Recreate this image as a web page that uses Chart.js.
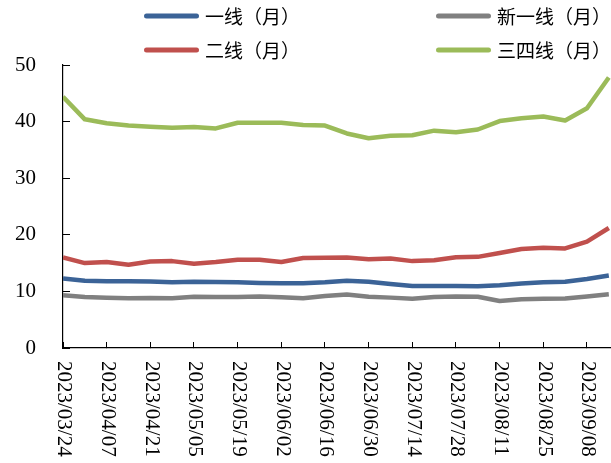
<!DOCTYPE html>
<html>
<head>
<meta charset="utf-8">
<script src="https://cdn.jsdelivr.net/npm/chart.js@4/dist/chart.umd.min.js"></script>
<style>
  html, body { margin: 0; padding: 0; background: #fff; }
  #wrap { width: 611px; height: 463px; }
</style>
</head>
<body>
<div id="wrap"><canvas id="c" width="611" height="463"></canvas></div>
<script>
// Weekly observation dates
const dates = [
  '2023/03/24','2023/03/31','2023/04/07','2023/04/14','2023/04/21','2023/04/28',
  '2023/05/05','2023/05/12','2023/05/19','2023/05/26','2023/06/02','2023/06/09',
  '2023/06/16','2023/06/23','2023/06/30','2023/07/07','2023/07/14','2023/07/21',
  '2023/07/28','2023/08/04','2023/08/11','2023/08/18','2023/08/25','2023/09/01',
  '2023/09/08','2023/09/15'
];

// Series by city tier
const tier1 = [12.3, 11.9, 11.8, 11.8, 11.75, 11.6, 11.7, 11.65, 11.6, 11.5, 11.45, 11.45, 11.6,
               11.9, 11.7, 11.3, 10.95, 10.95, 10.95, 10.9, 11.1, 11.4, 11.6, 11.7, 12.2, 12.8];
const newTier1 = [9.3, 9.0, 8.9, 8.8, 8.85, 8.8, 9.05, 9.0, 9.0, 9.1, 8.95, 8.8, 9.2,
                  9.45, 9.05, 8.9, 8.7, 9.0, 9.1, 9.05, 8.3, 8.6, 8.7, 8.75, 9.1, 9.5];
const tier2 = [16.0, 15.0, 15.2, 14.7, 15.3, 15.35, 14.9, 15.2, 15.6, 15.6, 15.2, 15.9, 15.95,
               16.0, 15.7, 15.8, 15.35, 15.5, 16.05, 16.1, 16.8, 17.5, 17.7, 17.6, 18.8, 21.2];
const tier34 = [44.4, 40.4, 39.7, 39.3, 39.1, 38.9, 39.05, 38.8, 39.8, 39.8, 39.8, 39.4, 39.3,
                37.9, 37.05, 37.5, 37.6, 38.4, 38.1, 38.6, 40.1, 40.6, 40.9, 40.2, 42.35, 47.8];

const seriesNames = ['一线（月）', '新一线（月）', '二线（月）', '三四线（月）'];
const yTicks = [0, 10, 20, 30, 40, 50];

const toPoints = arr => arr.map((v, i) => ({ x: i, y: v }));

const COLORS = ['#3B6397', '#808080', '#C0504D', '#9BBB59'];
const SERIF = '"Liberation Serif", "Times New Roman", serif';
const CJK = '"Noto Sans CJK SC", sans-serif';

// Two-column legend at the top of the canvas
const gridLegend = {
  id: 'gridLegend',
  afterDraw(chart) {
    const ctx = chart.ctx;
    const cols = [144, 436];
    const rows = [16, 50];
    const swatch = 55;
    ctx.save();
    chart.data.datasets.forEach((ds, i) => {
      const x = cols[i % 2];
      const y = rows[Math.floor(i / 2)];
      ctx.strokeStyle = ds.borderColor;
      ctx.lineWidth = 5;
      ctx.lineCap = 'round';
      ctx.beginPath();
      ctx.moveTo(x + 2.5, y);
      ctx.lineTo(x + swatch - 2.5, y);
      ctx.stroke();
      ctx.fillStyle = '#000';
      ctx.font = '19px ' + CJK;
      ctx.textAlign = 'left';
      ctx.textBaseline = 'middle';
      ctx.fillText(ds.label, x + swatch + 6, y + 1);
    });
    ctx.restore();
  }
};

// Date labels on the x axis, turned to read top-to-bottom
const verticalDates = {
  id: 'verticalDates',
  afterDraw(chart) {
    const ctx = chart.ctx;
    const xs = chart.scales.x;
    ctx.save();
    ctx.fillStyle = '#000';
    ctx.font = '21px ' + SERIF;
    ctx.textAlign = 'left';
    ctx.textBaseline = 'middle';
    for (let i = 0; i < dates.length; i += 2) {
      const px = xs.getPixelForValue(i);
      ctx.save();
      ctx.translate(px + 1, xs.top + 13);
      ctx.rotate(Math.PI / 2);
      ctx.fillText(dates[i], 0, 0);
      ctx.restore();
    }
    ctx.restore();
  }
};

new Chart(document.getElementById('c'), {
  type: 'line',
  data: {
    datasets: [
      { label: seriesNames[0], data: toPoints(tier1), borderColor: COLORS[0] },
      { label: seriesNames[1], data: toPoints(newTier1), borderColor: COLORS[1] },
      { label: seriesNames[2], data: toPoints(tier2), borderColor: COLORS[2] },
      { label: seriesNames[3], data: toPoints(tier34), borderColor: COLORS[3] }
    ].map(d => Object.assign(d, {
      borderWidth: 4.5,
      pointRadius: 0,
      tension: 0,
      borderJoinStyle: 'round',
      fill: false
    }))
  },
  options: {
    responsive: false,
    devicePixelRatio: 1,
    animation: false,
    layout: { padding: { top: 65, right: 0, left: 0, bottom: 0 } },
    plugins: {
      legend: { display: false },
      tooltip: { enabled: false }
    },
    scales: {
      x: {
        type: 'linear',
        min: 0,
        max: 25.1,
        afterFit(scale) { scale.height = 463 - 348; },
        ticks: { display: false, stepSize: 2, includeBounds: false },
        grid: {
          drawOnChartArea: false,
          drawTicks: true,
          tickLength: -6,
          color: '#000',
          tickWidth: 1
        },
        border: { display: true, color: '#000', width: 1.2 }
      },
      y: {
        min: 0,
        max: 50,
        afterFit(scale) { scale.width = 63; },
        afterBuildTicks(scale) { scale.ticks = yTicks.map(v => ({ value: v })); },
        ticks: {
          padding: 34,
          color: '#000',
          font: { family: SERIF, size: 21 }
        },
        grid: {
          drawOnChartArea: false,
          drawTicks: true,
          tickLength: -7,
          color: '#000',
          tickWidth: 1
        },
        border: { display: true, color: '#000', width: 1.2 }
      }
    }
  },
  plugins: [gridLegend, verticalDates]
});
</script>
</body>
</html>
